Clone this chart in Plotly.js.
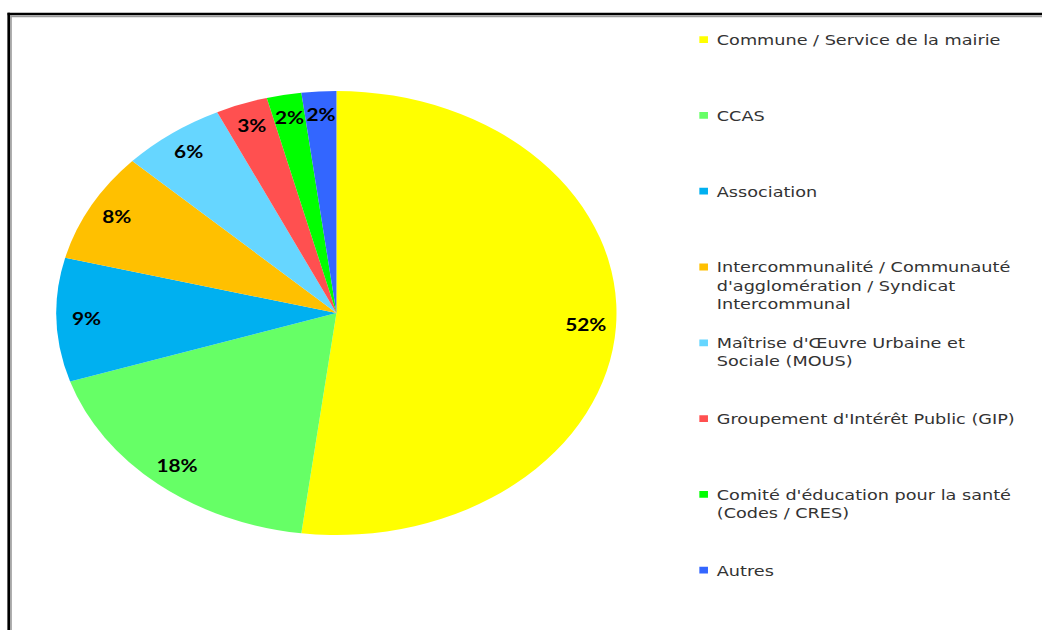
<!DOCTYPE html>
<html>
<head>
<meta charset="utf-8">
<script src="https://cdn.plot.ly/plotly-3.0.1.min.js"></script>
<style>
html, body { margin: 0; padding: 0; background: #ffffff; overflow: hidden; }
#chart { width: 826px; height: 630px; transform: scaleX(1.2615); transform-origin: 0 0; }
#chart path.legendpie { transform: translate(29.6px, 0px) scale(0.57); }
</style>
</head>
<body>
<div id="chart"></div>
<script>
// ---- data ----
const categories = [
  "Commune / Service de la mairie",
  "CCAS",
  "Association",
  "Intercommunalité / Communauté<br>d'agglomération / Syndicat<br>Intercommunal",
  "Maîtrise d'Œuvre Urbaine et<br>Sociale (MOUS)",
  "Groupement d'Intérêt Public (GIP)",
  "Comité d'éducation pour la santé<br>(Codes / CRES)",
  "Autres"
];
const values = [52, 18, 9, 8, 6, 3, 2, 2];
const colors = ["#FFFF00", "#66FF66", "#00B0F0", "#FFC000", "#66D6FF", "#FF5050", "#00FF00", "#3366FF"];

// ---- geometry (unstretched page coordinates) ----
const W = 826, H = 630;
const CX = 266.7, CY = 313, R = 222;
const LABEL_R = 0.895;

const total = values.reduce((a, b) => a + b, 0);
const pctLabels = values.map(v => Math.round(v / total * 100) + "%");

// pad legend labels (all but the last) to equal slots of 4 lines
const legendLabels = categories.map((c, i) => {
  if (i === categories.length - 1) return c;
  const n = c.split("<br>").length;
  return c + "<br>\u00a0".repeat(Math.max(0, 4 - n));
});

// label annotations at mid-angle of each slice
const annotations = [];
let cum = 0;
values.forEach((v, i) => {
  const mid = (cum + v / 2) / total * 2 * Math.PI;
  cum += v;
  const px = CX + LABEL_R * R * Math.sin(mid);
  const py = CY - LABEL_R * R * Math.cos(mid);
  annotations.push({
    xref: "paper", yref: "paper",
    x: px / W, y: 1 - py / H,
    xanchor: "center", yanchor: "middle",
    showarrow: false,
    text: pctLabels[i],
    font: { family: "Lato, sans-serif", size: 16.5, weight: "bold", color: "#000000" }
  });
});

const trace = {
  type: "pie",
  labels: legendLabels,
  values: values,
  sort: false,
  direction: "clockwise",
  rotation: 0,
  textinfo: "none",
  hoverinfo: "none",
  marker: { colors: colors, line: { width: 0 } },
  domain: {
    x: [(CX - R) / W, (CX + R) / W],
    y: [1 - (CY + R) / H, 1 - (CY - R) / H]
  }
};

const shapes = [
  { type: "line", xref: "paper", yref: "paper", x0: 6 / W, x1: 1, y0: 1 - 14 / H, y1: 1 - 14 / H, line: { color: "#000000", width: 2.6 } },
  { type: "line", xref: "paper", yref: "paper", x0: 8.3 / W, x1: 1, y0: 1 - 16.4 / H, y1: 1 - 16.4 / H, line: { color: "#9a9a9a", width: 1.6 } },
  { type: "line", xref: "paper", yref: "paper", x0: 6.9 / W, x1: 6.9 / W, y0: 0, y1: 1 - 12.7 / H, line: { color: "#000000", width: 2.1 } },
  { type: "line", xref: "paper", yref: "paper", x0: 8.7 / W, x1: 8.7 / W, y0: 0, y1: 1 - 15.3 / H, line: { color: "#9a9a9a", width: 1.3 } }
];

const layout = {
  width: W, height: H,
  margin: { l: 0, r: 0, t: 0, b: 0, pad: 0 },
  paper_bgcolor: "#ffffff",
  plot_bgcolor: "#ffffff",
  showlegend: true,
  legend: {
    x: 528.2 / W, xanchor: "left",
    y: 1 - 24 / H, yanchor: "top",
    valign: "top",
    bgcolor: "rgba(0,0,0,0)",
    borderwidth: 0,
    traceorder: "normal",
    font: { family: "DejaVu Sans, sans-serif", size: 14, color: "#333333" }
  },
  annotations: annotations,
  shapes: shapes
};

Plotly.newPlot("chart", [trace], layout, { staticPlot: true, displayModeBar: false, responsive: false });
</script>
</body>
</html>
